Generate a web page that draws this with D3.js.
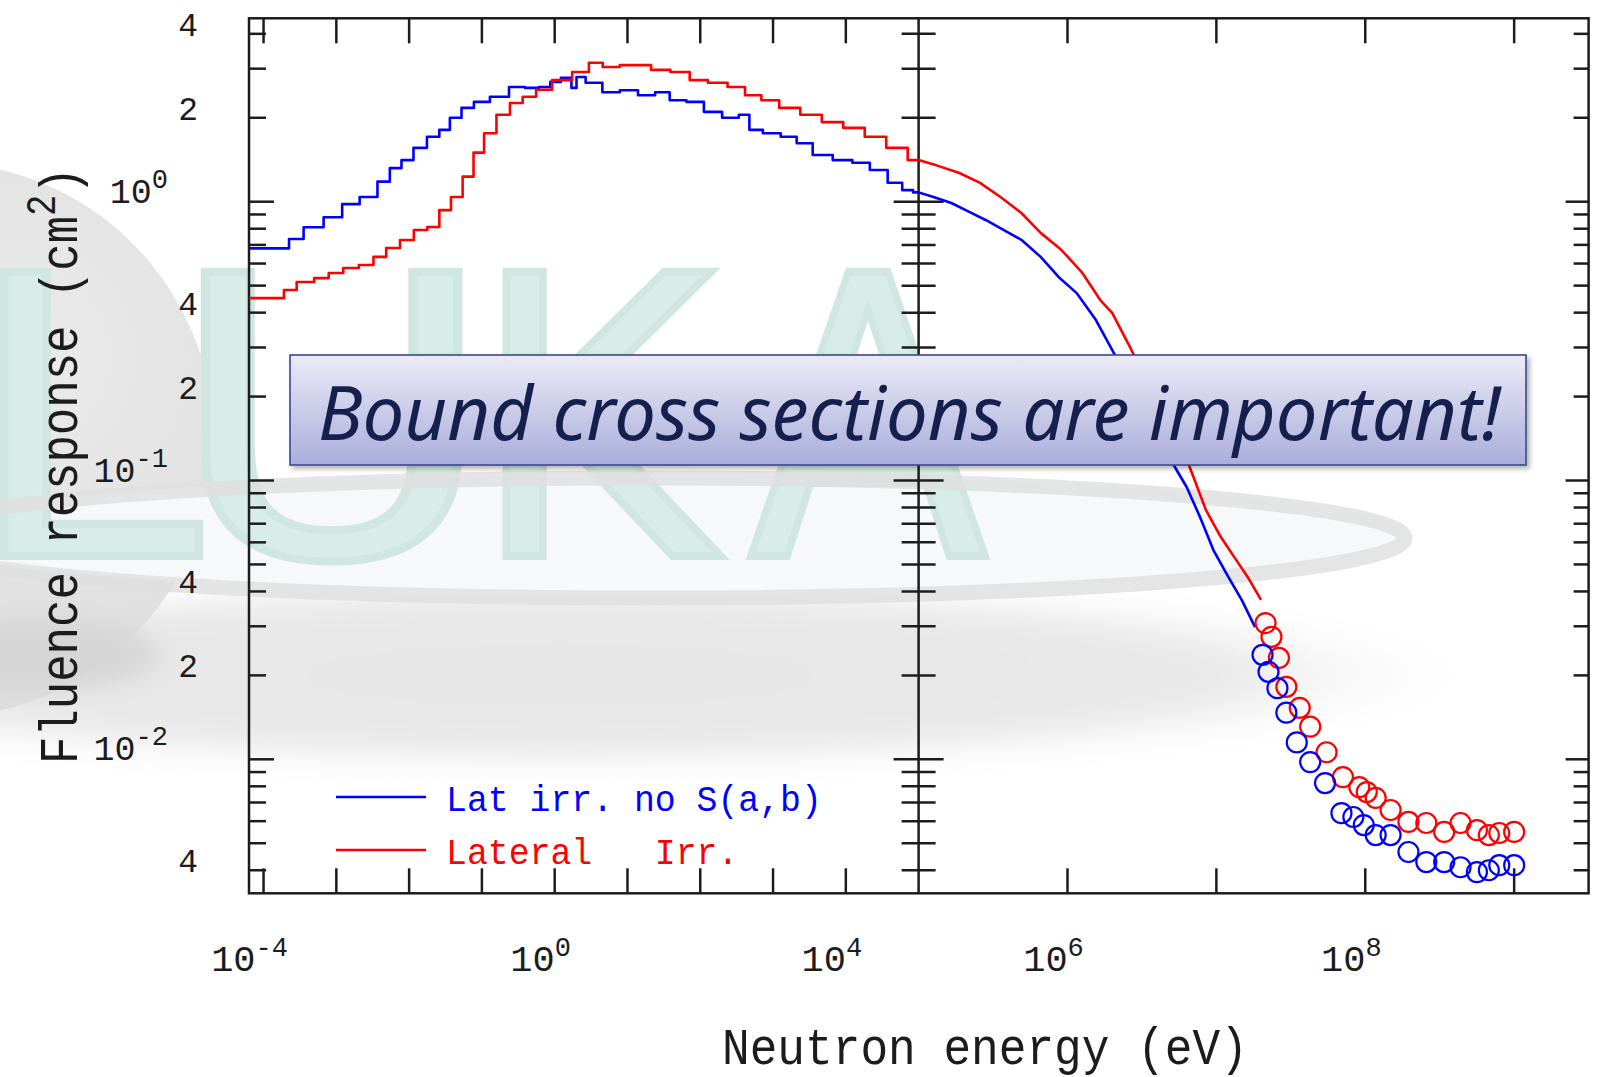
<!DOCTYPE html>
<html>
<head>
<meta charset="utf-8">
<script src="https://cdn.jsdelivr.net/npm/d3@7"></script>
<style>
html, body { margin: 0; padding: 0; background: #fff; }
svg { display: block; }
</style>
</head>
<body>
<svg id="chart" width="1607" height="1077"></svg>
<script>
// energies are stored as log10(E / eV), responses in cm^2
var blueLowExp  = [-4.2, -3.75, -3.55, -3.35, -3.0, -2.84, -2.52, -2.35, -2.18, -2.03, -1.85, -1.66, -1.51, -1.37, -1.19, -1.03, -0.75, -0.505, -0.31, -0.12, 0.0, 0.17, 0.29, 0.31, 0.54, 0.77, 1.02, 1.27, 1.49, 1.67, 1.95, 2.15, 2.45, 2.61, 2.74, 2.98, 3.23, 3.42, 3.67, 3.97, 4.21, 4.45, 4.70, 4.85, 5.0];
var blueLowResp = [0.68, 0.68, 0.735, 0.81, 0.88, 0.98, 1.04, 1.18, 1.32, 1.41, 1.56, 1.71, 1.81, 2.0, 2.17, 2.28, 2.38, 2.58, 2.56, 2.58, 2.69, 2.78, 2.56, 2.80, 2.67, 2.47, 2.51, 2.41, 2.47, 2.31, 2.28, 2.10, 2.0, 2.05, 1.81, 1.76, 1.71, 1.62, 1.47, 1.41, 1.38, 1.30, 1.17, 1.10, 1.08];
var blueHighExp  = [5.0, 5.10, 5.22, 5.34, 5.45, 5.57, 5.69, 5.82, 5.94, 6.06, 6.19, 6.30, 6.72, 6.80, 6.89, 6.98, 7.08, 7.17, 7.26];
var blueHighResp = [1.08, 1.04, 0.989, 0.919, 0.860, 0.792, 0.730, 0.634, 0.537, 0.471, 0.377, 0.294, 0.112, 0.0948, 0.0740, 0.0563, 0.0451, 0.0373, 0.0298];

var redLowExp  = [-4.2, -3.75, -3.69, -3.40, -3.21, -3.0, -2.81, -2.57, -2.41, -2.22, -2.03, -1.84, -1.66, -1.51, -1.34, -1.19, -1.04, -0.90, -0.70, -0.53, -0.35, -0.16, 0.09, 0.39, 0.55, 0.77, 1.02, 1.23, 1.42, 1.76, 1.95, 2.26, 2.49, 2.74, 2.94, 3.23, 3.52, 3.82, 4.11, 4.41, 4.70, 5.0];
var redLowResp = [0.451, 0.451, 0.482, 0.515, 0.532, 0.555, 0.578, 0.593, 0.634, 0.682, 0.729, 0.792, 0.811, 0.933, 1.04, 1.23, 1.50, 1.76, 2.05, 2.26, 2.38, 2.52, 2.73, 2.92, 3.15, 3.04, 3.09, 3.09, 2.97, 2.92, 2.73, 2.67, 2.58, 2.41, 2.31, 2.17, 2.05, 1.93, 1.84, 1.71, 1.56, 1.41];
var redHighExp  = [5.0, 5.12, 5.27, 5.41, 5.55, 5.69, 5.82, 5.96, 6.10, 6.22, 6.30, 6.42, 6.82, 6.93, 7.03, 7.12, 7.21, 7.30];
var redHighResp = [1.41, 1.35, 1.27, 1.17, 1.04, 0.911, 0.773, 0.671, 0.555, 0.444, 0.399, 0.301, 0.112, 0.0783, 0.0627, 0.0531, 0.0451, 0.0373];

// high energy points (circles)
var redPtExp  = [7.33, 7.37, 7.42, 7.47, 7.56, 7.63, 7.74, 7.85, 7.96, 8.01, 8.07, 8.17, 8.29, 8.41, 8.53, 8.64, 8.75, 8.83, 8.90, 9.0];
var redPtResp = [0.0308, 0.0275, 0.0231, 0.0182, 0.0153, 0.0131, 0.0106, 0.00863, 0.00795, 0.00763, 0.00727, 0.00658, 0.00596, 0.00591, 0.00549, 0.00591, 0.00557, 0.00535, 0.00544, 0.00549];
var bluePtExp  = [7.31, 7.35, 7.41, 7.47, 7.54, 7.63, 7.73, 7.84, 7.92, 7.99, 8.07, 8.17, 8.29, 8.41, 8.53, 8.64, 8.75, 8.83, 8.90, 9.0];
var bluePtResp = [0.0237, 0.0206, 0.0180, 0.0147, 0.0115, 0.00977, 0.00822, 0.00641, 0.00621, 0.00581, 0.00535, 0.00535, 0.00465, 0.00428, 0.00428, 0.00410, 0.00394, 0.00400, 0.00417, 0.00417];

// axis ticks
var xTickExp  = [-4, -3, -2, -1, 0, 1, 2, 3, 4, 6, 7, 8, 9];
var xLabelExp = [-4, 0, 4, 6, 8];
var yDecadeExp = [0, -1, -2];
var yLabelMinor = [4, 2, 0.4, 0.2, 0.04, 0.02, 0.004];

var legendItems = [
	{ text: "Lat irr. no S(a,b)", color: "#0000ff" },
	{ text: "Lateral   Irr.", color: "#ff0000" }
];
var noteText = "Bound cross sections are important!";

var MONO = "'Liberation Mono', 'DejaVu Sans Mono', monospace";
var INK = "#1c1c1c";

var svg = d3.select("#chart");
var defs = svg.append("defs");

var plotL = 249, plotMid = 918.6, plotR = 1588.6, plotT = 18.3, plotB = 893.3;

// two panels share one piecewise log scale: 10^-4.2..10^5 on the left, 10^5..10^9.5 on the right
var x = d3.scaleLog()
	.domain([Math.pow(10, -4.2), 1e5, Math.pow(10, 9.5)])
	.range([plotL, plotMid, plotR]);
var y = d3.scaleLog()
	.domain([Math.pow(10, -2.4806), Math.pow(10, 0.6578)])
	.range([plotB, plotT]);

function pts(exps, vals) {
	return exps.map(function(e, i) { return [Math.pow(10, e), vals[i]]; });
}

// ---------- background watermark ----------
var haze = defs.append("radialGradient").attr("id", "haze");
haze.append("stop").attr("offset", "0%").attr("stop-color", "#e6e6e6");
haze.append("stop").attr("offset", "70%").attr("stop-color", "#e9e9e9");
haze.append("stop").attr("offset", "100%").attr("stop-color", "#ffffff").attr("stop-opacity", 0);
var sph = defs.append("radialGradient").attr("id", "sphere").attr("cx", "65%").attr("cy", "35%").attr("r", "70%");
sph.append("stop").attr("offset", "0%").attr("stop-color", "#ebebeb");
sph.append("stop").attr("offset", "100%").attr("stop-color", "#dcdcdc");
defs.append("filter").attr("id", "soft").attr("x", "-20%").attr("y", "-50%").attr("width", "140%").attr("height", "200%")
	.append("feGaussianBlur").attr("stdDeviation", 12);

var wm = svg.append("g").attr("class", "watermark");
wm.append("ellipse").attr("cx", 560).attr("cy", 675).attr("rx", 950).attr("ry", 105)
	.attr("fill", "url(#haze)").attr("filter", "url(#soft)");
wm.append("circle").attr("cx", -64).attr("cy", 440).attr("r", 278).attr("fill", "url(#sphere)");
wm.append("ellipse").attr("cx", 40).attr("cy", 655).attr("rx", 120).attr("ry", 36).attr("fill", "#d6d6d6")
	.attr("filter", "url(#soft)");
wm.append("ellipse").attr("cx", 650).attr("cy", 535).attr("rx", 755).attr("ry", 60)
	.attr("fill", "#f6f8f9").attr("stroke", "none");

var logoLetters = [
	{ ch: "F", x0: -230, sx: 1.0 },
	{ ch: "L", x0: -38, sx: 1.1 },
	{ ch: "U", x0: 166, sx: 1.16 },
	{ ch: "K", x0: 470, sx: 0.95 },
	{ ch: "A", x0: 748, sx: 0.9 }
];
wm.selectAll("text.logo").data(logoLetters).enter().append("text")
	.attr("class", "logo")
	.attr("transform", function(d) { return "translate(" + d.x0 + ",556) scale(" + d.sx + ",1)"; })
	.attr("font-family", "'DejaVu Sans', sans-serif")
	.attr("font-size", 390)
	.attr("fill", "#d8ede8")
	.attr("stroke", "#d0e6e1")
	.attr("stroke-width", 8)
	.text(function(d) { return d.ch; });

wm.append("ellipse").attr("cx", 650).attr("cy", 538).attr("rx", 755).attr("ry", 60)
	.attr("fill", "none").attr("stroke", "#dedede").attr("stroke-width", 15).attr("opacity", 0.8);

// ---------- frame and ticks ----------
var axes = svg.append("g").attr("stroke", INK).attr("stroke-width", 2.5).attr("fill", "none");
axes.append("rect").attr("x", plotL).attr("y", plotT).attr("width", plotR - plotL).attr("height", plotB - plotT);
axes.append("line").attr("x1", plotMid).attr("x2", plotMid).attr("y1", plotT).attr("y2", plotB);

xTickExp.forEach(function(e) {
	var px = x(Math.pow(10, e));
	axes.append("line").attr("x1", px).attr("x2", px).attr("y1", plotT).attr("y2", plotT + 25);
	axes.append("line").attr("x1", px).attr("x2", px).attr("y1", plotB).attr("y2", plotB - 25);
});

var yTicks = [];
[0, -1, -2, -3].forEach(function(k) {
	for (var m = 1; m <= 9; m++) {
		var v = m * Math.pow(10, k);
		if (v >= y.domain()[0] && v <= y.domain()[1]) yTicks.push({ v: v, major: m === 1 });
	}
});
yTicks.forEach(function(t) {
	var py = y(t.v), len = t.major ? 25 : 17;
	axes.append("line").attr("x1", plotL).attr("x2", plotL + len).attr("y1", py).attr("y2", py);
	axes.append("line").attr("x1", plotMid - len).attr("x2", plotMid + len).attr("y1", py).attr("y2", py);
	axes.append("line").attr("x1", plotR - len + 2).attr("x2", plotR).attr("y1", py).attr("y2", py);
});

// ---------- tick labels ----------
var labels = svg.append("g").attr("font-family", MONO).attr("fill", INK);
yDecadeExp.forEach(function(e) {
	var t = labels.append("text").attr("x", 168).attr("y", y(Math.pow(10, e)) + 1)
		.attr("text-anchor", "end").attr("font-size", 35);
	t.append("tspan").text("10");
	t.append("tspan").attr("dy", -15).attr("font-size", 27).text(String(e));
});
yLabelMinor.forEach(function(v) {
	labels.append("text").attr("x", 198).attr("y", y(v) + 2)
		.attr("text-anchor", "end").attr("font-size", 33)
		.text(String(v).replace(/^0\.0*/, ""));
});
xLabelExp.forEach(function(e) {
	var t = labels.append("text").attr("x", x(Math.pow(10, e)) - 14).attr("y", 971)
		.attr("text-anchor", "middle").attr("font-size", 37);
	t.append("tspan").text("10");
	t.append("tspan").attr("dy", -15).attr("font-size", 27).text(String(e));
});

// ---------- axis titles ----------
var yt = svg.append("text").attr("font-family", MONO).attr("font-size", 54).attr("fill", INK);
yt.append("tspan").text("Fluence response (cm");
yt.append("tspan").attr("dy", -22).attr("font-size", 42).text("2");
yt.append("tspan").attr("dy", 22).text(")");
var ysx = 597 / yt.node().getComputedTextLength();
yt.attr("transform", "translate(76.5,764) rotate(-90) scale(" + ysx + ",1)");

var xt = svg.append("text").attr("font-family", MONO).attr("font-size", 52).attr("fill", INK)
	.text("Neutron energy (eV)");
var xsx = 526 / xt.node().getComputedTextLength();
xt.attr("transform", "translate(722,1064) scale(" + xsx + ",1)");

// ---------- curves ----------
var stepLine = d3.line().x(function(d) { return x(d[0]); }).y(function(d) { return y(d[1]); }).curve(d3.curveStep);
var plainLine = d3.line().x(function(d) { return x(d[0]); }).y(function(d) { return y(d[1]); });

var curves = svg.append("g").attr("fill", "none").attr("stroke-width", 2.6).attr("stroke-linejoin", "round");
curves.append("path").attr("d", stepLine(pts(blueLowExp, blueLowResp))).attr("stroke", "#0000ff");
curves.append("path").attr("d", plainLine(pts(blueHighExp, blueHighResp))).attr("stroke", "#0000ff");
curves.append("path").attr("d", stepLine(pts(redLowExp, redLowResp))).attr("stroke", "#ff0000");
curves.append("path").attr("d", plainLine(pts(redHighExp, redHighResp))).attr("stroke", "#ff0000");

var marks = svg.append("g").attr("fill", "none").attr("stroke-width", 2.2);
marks.selectAll("circle.red").data(pts(redPtExp, redPtResp)).enter().append("circle")
	.attr("class", "red").attr("cx", function(d) { return x(d[0]); }).attr("cy", function(d) { return y(d[1]); })
	.attr("r", 10).attr("stroke", "#ff0000");
marks.selectAll("circle.blue").data(pts(bluePtExp, bluePtResp)).enter().append("circle")
	.attr("class", "blue").attr("cx", function(d) { return x(d[0]); }).attr("cy", function(d) { return y(d[1]); })
	.attr("r", 10).attr("stroke", "#0000ff");

// ---------- legend ----------
var legend = svg.append("g");
var legSx = null;
legendItems.forEach(function(it, i) {
	var ly = 797 + i * 53;
	legend.append("line").attr("x1", 336).attr("x2", 426).attr("y1", ly).attr("y2", ly)
		.attr("stroke", it.color).attr("stroke-width", 2.6);
	var t = legend.append("text").attr("font-family", MONO).attr("font-size", 37).attr("fill", it.color)
		.style("white-space", "pre").attr("xml:space", "preserve").text(it.text);
	if (legSx === null) legSx = 376 / t.node().getComputedTextLength();
	t.attr("transform", "translate(446," + (ly + 14) + ") scale(" + legSx + ",1)");
});

// ---------- note box ----------
var bg = defs.append("linearGradient").attr("id", "boxFill").attr("x1", 0).attr("y1", 0).attr("x2", 0).attr("y2", 1);
bg.append("stop").attr("offset", "0%").attr("stop-color", "#ebebf6");
bg.append("stop").attr("offset", "100%").attr("stop-color", "#aaaddb");
defs.append("filter").attr("id", "shadow").attr("x", "-5%").attr("y", "-20%").attr("width", "110%").attr("height", "150%")
	.append("feDropShadow").attr("dx", 3).attr("dy", 3).attr("stdDeviation", 2.5)
	.attr("flood-color", "#000").attr("flood-opacity", 0.3);

svg.append("rect").attr("x", 290).attr("y", 355).attr("width", 1236).attr("height", 110)
	.attr("fill", "url(#boxFill)").attr("stroke", "#3c4890").attr("stroke-width", 1.6)
	.attr("filter", "url(#shadow)");
svg.append("text").attr("x", 318).attr("y", 440)
	.attr("font-family", "'Noto Sans', 'Open Sans', sans-serif").attr("font-style", "italic")
	.attr("font-size", 74).attr("fill", "#16204f")
	.attr("textLength", 1183).attr("lengthAdjust", "spacingAndGlyphs")
	.text(noteText);
</script>
</body>
</html>
